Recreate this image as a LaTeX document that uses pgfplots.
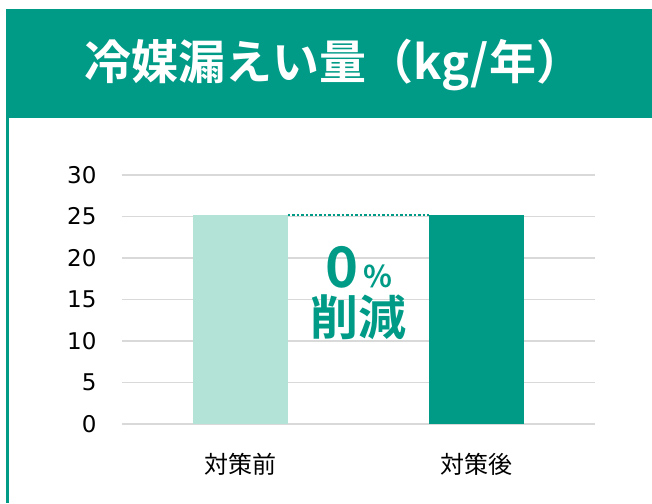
\documentclass[border=0pt]{standalone}
\usepackage{pgfplots}
\pgfplotsset{compat=1.18}
\usepackage{fontspec}
\setmainfont{DejaVu Sans}
\newfontfamily\jp{Noto Sans CJK JP}
\newfontfamily\jpb{Noto Sans CJK JP Bold}
\definecolor{teal1}{HTML}{009B87}
\definecolor{light1}{HTML}{B3E3D7}
\definecolor{gridc}{HTML}{D9D9D9}
\begin{document}
\begin{tikzpicture}
\useasboundingbox (0pt,0pt) rectangle (652pt,503pt);
\fill[teal1] (6pt,494pt) rectangle (652pt,385pt);
\fill[teal1] (6pt,385pt) rectangle (8.5pt,0pt);
\node[anchor=west,text=white,font=\jpb\fontsize{47}{50}\selectfont,inner sep=0pt] at (84pt,438pt) {冷媒漏えい量（kg/年）};
\begin{axis}[
  at={(122pt,79pt)}, anchor=south west,
  scale only axis, width=473pt, height=249pt,
  xmin=-0.5, xmax=1.5, ymin=0, ymax=30,
  ytick={0,5,...,30},
  xtick={0,1}, xticklabels={対策前,対策後},
  axis line style={draw=none},
  major tick length=0pt,
  ymajorgrids, grid style={gridc, line width=1.2pt},
  yticklabel style={font=\fontsize{23}{26}\selectfont, xshift=-22pt},
  xticklabel style={font=\jp\fontsize{24}{26}\selectfont, yshift=-26pt},
  /pgf/number format/assume math mode=true,
  clip=false,
]
\addplot[ybar, bar width=95pt, bar shift=0pt, fill=light1, draw=none] coordinates {(0,25.2)};
\addplot[ybar, bar width=95pt, bar shift=0pt, fill=teal1, draw=none] coordinates {(1,25.2)};
\addplot[teal1, line width=1.5pt, dash pattern=on 2.5pt off 2pt] coordinates {(0.2,25.2) (0.8,25.2)};
\node[text=teal1, font=\jpb, inner sep=0pt, anchor=base] at (axis cs:0.5,16.5) {\fontsize{56}{58}\selectfont 0\hspace{5pt}\fontsize{30}{32}\selectfont\%};
\node[text=teal1, font=\jpb\fontsize{48}{52}\selectfont, inner sep=0pt] at (axis cs:0.5,12.9) {削減};
\end{axis}
\end{tikzpicture}
\end{document}
